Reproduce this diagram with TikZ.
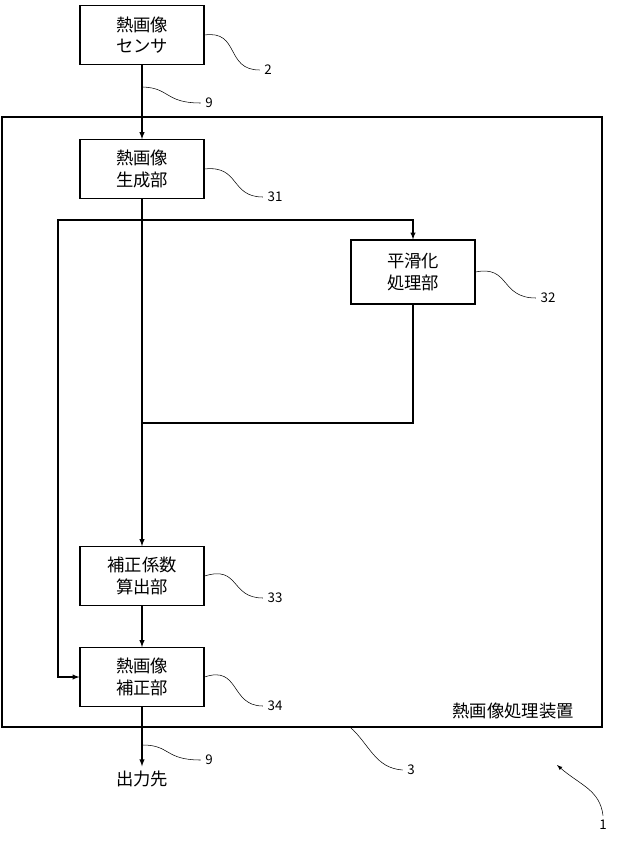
\documentclass[tikz,border=0pt]{standalone}
\usepackage{fontspec}
\setmainfont{Noto Sans CJK JP}
\usetikzlibrary{positioning}
\tikzset{
  blk/.style={draw,thick,minimum width=93pt,minimum height=44pt,inner sep=0pt,align=center,font=\fontsize{13}{16}\selectfont},
  ref/.style={font=\fontsize{10}{12}\selectfont},
  lead/.style={thin},
  flow/.style={thick,-latex}
}
\begin{document}
\begin{tikzpicture}[x=0.75pt,y=0.75pt,yscale=-1,xscale=1]
\useasboundingbox (0,0) rectangle (622,843);

%outer box
\draw[thick] (2,117) rectangle (602,727);
\node[font=\fontsize{13}{15}\selectfont] (dev) at (513,711) {熱画像処理装置};

%blocks
\node[blk] (sensor) at (142,35) {熱画像\\センサ};
\node[blk] (gen) at (142,169) {熱画像\\生成部};
\node[blk,minimum height=48pt] (smooth) at (413,272) {平滑化\\処理部};
\node[blk] (coef) at (142,576) {補正係数\\算出部};
\node[blk] (corr) at (142,677) {熱画像\\補正部};
\node[font=\fontsize{13}{15}\selectfont] (out) at (142,779) {出力先};

%connectors
\coordinate (br) at (142,220);
\coordinate (mg) at (142,423);
\draw[flow] (sensor) -- (gen);
\draw[flow] (gen) -- (coef);
\draw[flow] (br) -- (58,220) |- (corr.west);
\draw[flow] (br) -| (smooth.north);
\draw[thick] (smooth.south) |- (mg);
\draw[flow] (coef) -- (corr);
\draw[flow] (corr) -- (out.north);

%reference labels
\node[ref] (r2) at (268,70) {2};
\node[ref] (r9a) at (209,103) {9};
\node[ref] (r31) at (275,197) {31};
\node[ref] (r32) at (548,298) {32};
\node[ref] (r33) at (275,598) {33};
\node[ref] (r34) at (275,706) {34};
\node[ref] (r9b) at (209,760) {9};
\node[ref] (r3) at (411,770) {3};
\node[ref] (r1) at (603,825) {1};

%leaders
\draw[lead] (sensor.east) ..controls (240,30) and (225,70) .. (r2.west);
\draw[lead] (143,87) ..controls (170,88) and (165,103) .. (r9a.west);
\draw[lead] (gen.east) ..controls (240,165) and (230,197) .. (r31.west);
\draw[lead] (smooth.east) ..controls (510,265) and (500,298) .. (r32.west);
\draw[lead] (coef.east) ..controls (240,565) and (230,598) .. (r33.west);
\draw[lead] (corr.east) ..controls (240,665) and (230,706) .. (r34.west);
\draw[lead] (143,745) ..controls (170,745) and (165,760) .. (r9b.west);
\draw[lead] (350,727) ..controls (370,745) and (375,768) .. (r3.west);
\draw[lead,-latex] (r1.north) ..controls (600,790) and (580,785) .. (557,765);
\end{tikzpicture}
\end{document}
